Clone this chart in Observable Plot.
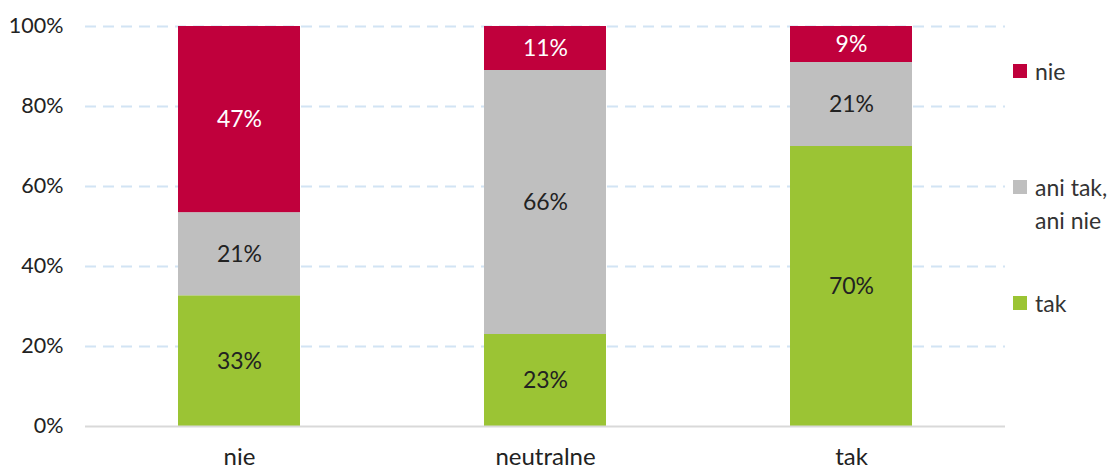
<!DOCTYPE html>
<html>
<head>
<meta charset="utf-8">
<script src="https://cdn.jsdelivr.net/npm/d3@7"></script>
<script src="https://cdn.jsdelivr.net/npm/@observablehq/plot@0.6"></script>
<style>
  html, body { margin: 0; padding: 0; background: #fff; }
  #wrap { position: relative; width: 1115px; height: 470px; font-family: Lato, "Open Sans", sans-serif; }
  .leg { position: absolute; left: 1013px; display: flex; align-items: flex-start; font-size: 23px; color: #333; line-height: 33px; }
  .sw { width: 14px; height: 14px; margin-right: 8px; margin-top: 9px; flex: none; }
</style>
</head>
<body>
<div id="wrap"></div>
<script>
const groups = ["nie", "neutralne", "tak"];
const answers = ["tak", "ani tak, ani nie", "nie"];
const takValues = [33, 23, 70];
const aniValues = [21, 66, 21];
const nieValues = [47, 11, 9];
const colors = ["#9BC434", "#BFBFBF", "#C0003C"];
const yTicks = [0, 0.2, 0.4, 0.6, 0.8, 1];

const series = [takValues, aniValues, nieValues];
const rows = [];
groups.forEach((g, i) => {
  answers.forEach((a, j) => rows.push({group: g, answer: a, value: series[j][i]}));
});

const stackOpts = {x: "group", y: "value", z: "answer", offset: "normalize", order: answers};

const chart = Plot.plot({
  width: 1115,
  height: 470,
  marginLeft: 85,
  marginRight: 110,
  marginTop: 26,
  marginBottom: 44,
  style: {fontFamily: "Lato, 'Open Sans', sans-serif", background: "#fff"},
  x: {domain: groups, paddingInner: 0.6, paddingOuter: 0.3, label: null, tickSize: 0, tickPadding: 21},
  y: {domain: [0, 1], ticks: yTicks, tickFormat: d => Math.round(d * 100) + "%", label: null, tickSize: 0, tickPadding: 22},
  color: {domain: answers, range: colors},
  marks: [
    Plot.ruleY(yTicks.filter(t => t > 0), {stroke: "#D2E4F4", strokeWidth: 2, strokeDasharray: "11,7"}),
    Plot.barY(rows, Plot.stackY({...stackOpts, fill: "answer"})),
    Plot.ruleY([0], {stroke: "#D9D9D9", strokeWidth: 2}),
    Plot.text(rows, Plot.filter(d => d.answer === "nie", Plot.stackY({...stackOpts, text: d => d.value + "%", fill: "#fff", fontSize: 23}))),
    Plot.text(rows, Plot.filter(d => d.answer !== "nie", Plot.stackY({...stackOpts, text: d => d.value + "%", fill: "#222", fontSize: 23})))
  ]
});
chart.querySelectorAll('[aria-label="y-axis tick label"]').forEach(el => { el.style.fontSize = "21.5px"; el.style.fill = "#222"; });
chart.querySelectorAll('[aria-label="x-axis tick label"]').forEach(el => { el.style.fontSize = "24px"; el.style.fill = "#222"; });
const wrap = document.getElementById("wrap");
wrap.appendChild(chart);

const legendItems = [
  {label: ["nie"], color: colors[2], top: 55},
  {label: ["ani tak,", "ani nie"], color: colors[1], top: 171},
  {label: ["tak"], color: colors[0], top: 287}
];
legendItems.forEach(it => {
  const d = document.createElement("div");
  d.className = "leg";
  d.style.top = it.top + "px";
  const sw = document.createElement("div");
  sw.className = "sw";
  sw.style.background = it.color;
  const t = document.createElement("div");
  t.innerHTML = it.label.join("<br>");
  d.appendChild(sw);
  d.appendChild(t);
  wrap.appendChild(d);
});
</script>
</body>
</html>
